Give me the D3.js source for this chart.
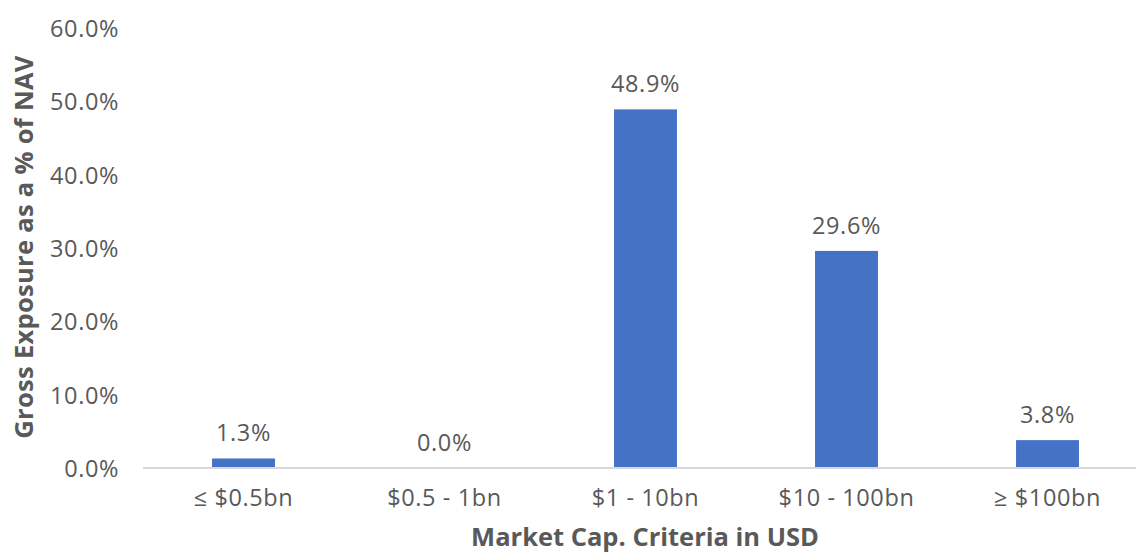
<!DOCTYPE html>
<html><head><meta charset="utf-8">
<script src="https://cdn.jsdelivr.net/npm/d3@7"></script>
<style>body{margin:0;background:#fff}svg{display:block}text{font-family:"Open Sans",sans-serif}</style>
</head><body>
<script>
const categories = ["≤ $0.5bn", "$0.5 - 1bn", "$1 - 10bn", "$10 - 100bn", "≥ $100bn"];
const values = [1.3, 0.0, 48.9, 29.6, 3.8];
const yTicks = [0, 10, 20, 30, 40, 50, 60];
const yTitle = "Gross Exposure as a % of NAV";
const xTitle = "Market Cap. Criteria in USD";

const W = 1136, H = 552;
const svg = d3.select("body").append("svg").attr("width", W).attr("height", H);
const textColor = "#595959";
const fs = "23.5px", ls = "0.6px";

const x = d3.scaleBand().domain(categories).range([143, 1148]).paddingInner(0.687).paddingOuter(0.3435);
const y = d3.scaleLinear().domain([0, 60]).range([468, 28]);

// y axis labels
const yAxis = d3.axisLeft(y).tickValues(yTicks).tickFormat(d => d.toFixed(1) + "%").tickSize(0).tickPadding(0);
const gy = svg.append("g").attr("transform", "translate(119,0)").call(yAxis);
gy.select(".domain").remove();
gy.selectAll("text").attr("fill", textColor).style("font-size", fs).style("letter-spacing", ls)
  .style("font-family", '"Open Sans",sans-serif').attr("dy", "0.36em");

// baseline
svg.append("line").attr("x1", 143).attr("x2", W).attr("y1", y(0)).attr("y2", y(0))
  .attr("stroke", "#d9d9d9").attr("stroke-width", 2);

// bars
svg.selectAll("rect.bar").data(values).join("rect").attr("class", "bar")
  .attr("x", (d, i) => x(categories[i])).attr("width", x.bandwidth())
  .attr("y", d => y(d)).attr("height", d => Math.max(0, y(0) - y(d) - 1))
  .attr("fill", "#4472c4");

// data labels
svg.selectAll("text.lbl").data(values).join("text").attr("class", "lbl")
  .attr("x", (d, i) => x(categories[i]) + x.bandwidth() / 2)
  .attr("y", d => y(d) - 17)
  .attr("text-anchor", "middle").attr("fill", textColor).style("font-size", fs).style("letter-spacing", ls)
  .text(d => d.toFixed(1) + "%");

// x axis labels
const xAxis = d3.axisBottom(x).tickSize(0).tickPadding(0);
const gx = svg.append("g").attr("transform", "translate(0,498)").call(xAxis);
gx.select(".domain").remove();
gx.selectAll("text").attr("fill", textColor).style("font-size", fs).style("letter-spacing", ls)
  .style("font-family", '"Open Sans",sans-serif').attr("dy", "0.36em");

// titles
svg.append("text").attr("x", 645).attr("y", 546).attr("text-anchor", "middle")
  .attr("fill", textColor).style("font-size", "25.5px").style("font-weight", "bold").text(xTitle);
svg.append("text").attr("transform", "translate(33,247) rotate(-90)").attr("text-anchor", "middle")
  .attr("fill", textColor).style("font-size", "25.5px").style("font-weight", "bold").style("letter-spacing", "0.3px").text(yTitle);
</script>
</body></html>
